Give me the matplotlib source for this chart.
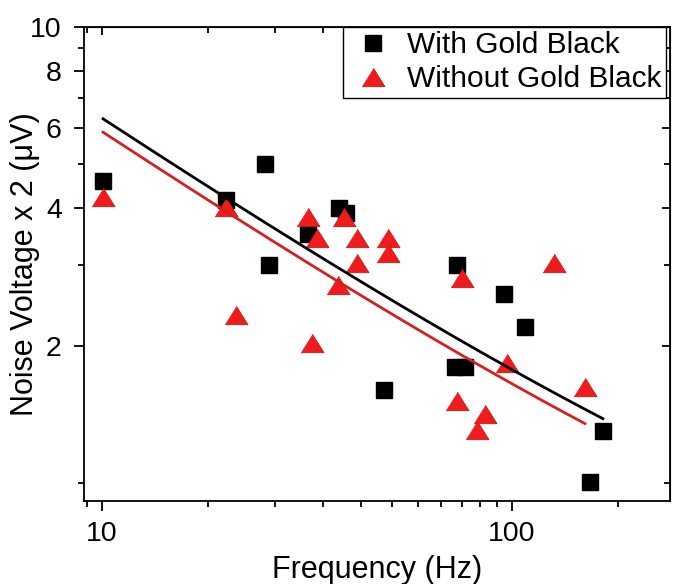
"""
Noise voltage vs frequency, with and without gold black.
"""

import numpy as np
import matplotlib
matplotlib.use("Agg")
import matplotlib.pyplot as plt
from matplotlib.ticker import FixedLocator, NullFormatter, FixedFormatter

plt.rcParams["font.family"] = ["Liberation Sans", "DejaVu Sans"]

# data
with_freq = [10.06, 20.1, 25.0, 25.5, 31.8, 37.8, 39.4, 48.7, 73.4, 72.6,
             76.8, 95.6, 107.6, 166.7, 155.0]
with_volt = [4.59, 4.17, 5.0, 3.0, 3.51, 4.0, 3.90, 1.60, 3.0, 1.80,
             1.80, 2.60, 2.20, 1.30, 1.005]

without_freq = [10.06, 20.1, 21.2, 31.8, 32.5, 33.5, 37.6, 38.9, 41.9, 41.9,
                49.9, 49.9, 73.4, 75.5, 82.2, 85.9, 97.2, 126.5, 150.7]
without_volt = [4.23, 4.02, 2.33, 3.83, 2.03, 3.44, 2.72, 3.83, 3.44, 3.03,
                3.44, 3.2, 1.51, 2.82, 1.31, 1.42, 1.83, 3.03, 1.62]

# fit curves: v = a + b * f ** (-p)
fit_with = (0.34, 24.9, 0.62)
fit_without = (0.31, 23.3, 0.62)

y_major = [2, 4, 6, 8, 10]
y_minor = [1, 3, 5, 7, 9]

RED = "#EE1C1C"
RED_LINE = "#D42020"
FS = 21.5


def fit_curve(freq, params):
    a, b, p = params
    f = np.geomspace(min(freq), max(freq), 200)
    return f, a + b * f ** (-p)


fig = plt.figure(figsize=(6.73, 5.84), dpi=100)
ax = fig.add_axes([84 / 673, 1 - 501 / 584, 586 / 673, 474 / 584])

ax.plot(with_freq, with_volt, ls="none", marker="s", ms=12,
        color="black", zorder=3, label="With Gold Black")
tri = [(-1, -0.8), (1, -0.8), (0, 0.8)]
ax.plot(without_freq, without_volt, ls="none", marker=tri, ms=16.5,
        color=RED, mec="#C81818", mew=0.6, zorder=4,
        label="Without Gold Black")

fx, fy = fit_curve(with_freq, fit_with)
ax.plot(fx, fy, color="black", lw=2.0, zorder=5)
fx, fy = fit_curve(without_freq, fit_without)
ax.plot(fx, fy, color=RED_LINE, lw=2.0, zorder=5)

ax.set_xscale("log")
ax.set_yscale("log")
ax.set_xlim(9.04, 243)
ax.set_ylim(0.913, 10)

# Origin-style minor ticks: 10 evenly spaced per decade
x_minor = [d + k * 9 * d / 11 for d in (1, 10, 100) for k in range(1, 11)]
ax.xaxis.set_major_locator(FixedLocator([10, 100]))
ax.xaxis.set_major_formatter(FixedFormatter(["10", "100"]))
ax.xaxis.set_minor_locator(FixedLocator(x_minor))
ax.xaxis.set_minor_formatter(NullFormatter())
ax.yaxis.set_major_locator(FixedLocator(y_major))
ax.yaxis.set_major_formatter(FixedFormatter([str(v) for v in y_major]))
ax.yaxis.set_minor_locator(FixedLocator(y_minor))
ax.yaxis.set_minor_formatter(NullFormatter())

for s in ax.spines.values():
    s.set_linewidth(1.3)
ax.tick_params(which="both", direction="out", width=1.3, labelsize=20.5,
               top=False, right=False)
ax.tick_params(which="major", length=7)
ax.tick_params(which="minor", length=4)
ax.tick_params(axis="x", which="major", pad=7.5)
ax.tick_params(axis="y", which="major", pad=9)

# mirrored inward ticks on top and right
sec_x = ax.secondary_xaxis("top")
sec_x.xaxis.set_major_locator(FixedLocator([10, 100]))
sec_x.xaxis.set_minor_locator(FixedLocator(x_minor))
sec_x.tick_params(which="both", direction="in", width=1.3, labeltop=False)
sec_x.tick_params(which="major", length=6)
sec_x.tick_params(which="minor", length=4)
sec_y = ax.secondary_yaxis("right")
sec_y.yaxis.set_major_locator(FixedLocator(y_major))
sec_y.yaxis.set_minor_locator(FixedLocator(y_minor))
sec_y.tick_params(which="both", direction="in", width=1.3, labelright=False)
sec_y.tick_params(which="major", length=6)
sec_y.tick_params(which="minor", length=4)

ax.set_xlabel("Frequency (Hz)", fontsize=FS + 0.5, labelpad=6)
ax.set_ylabel("Noise Voltage x 2 (\u03bcV)", fontsize=FS + 0.5)
ax.yaxis.set_label_coords(-0.075, 0.5)

leg = ax.legend(loc="upper left", bbox_to_anchor=(343 / 673, 1 - 27 / 584),
                bbox_transform=fig.transFigure, fontsize=FS, frameon=True,
                fancybox=False, edgecolor="black", framealpha=1,
                borderpad=0.15, labelspacing=0.2, handlelength=1.7,
                handletextpad=0.3, borderaxespad=0)
leg.get_frame().set_linewidth(1.0)

fig.savefig("out.png", dpi=100)
